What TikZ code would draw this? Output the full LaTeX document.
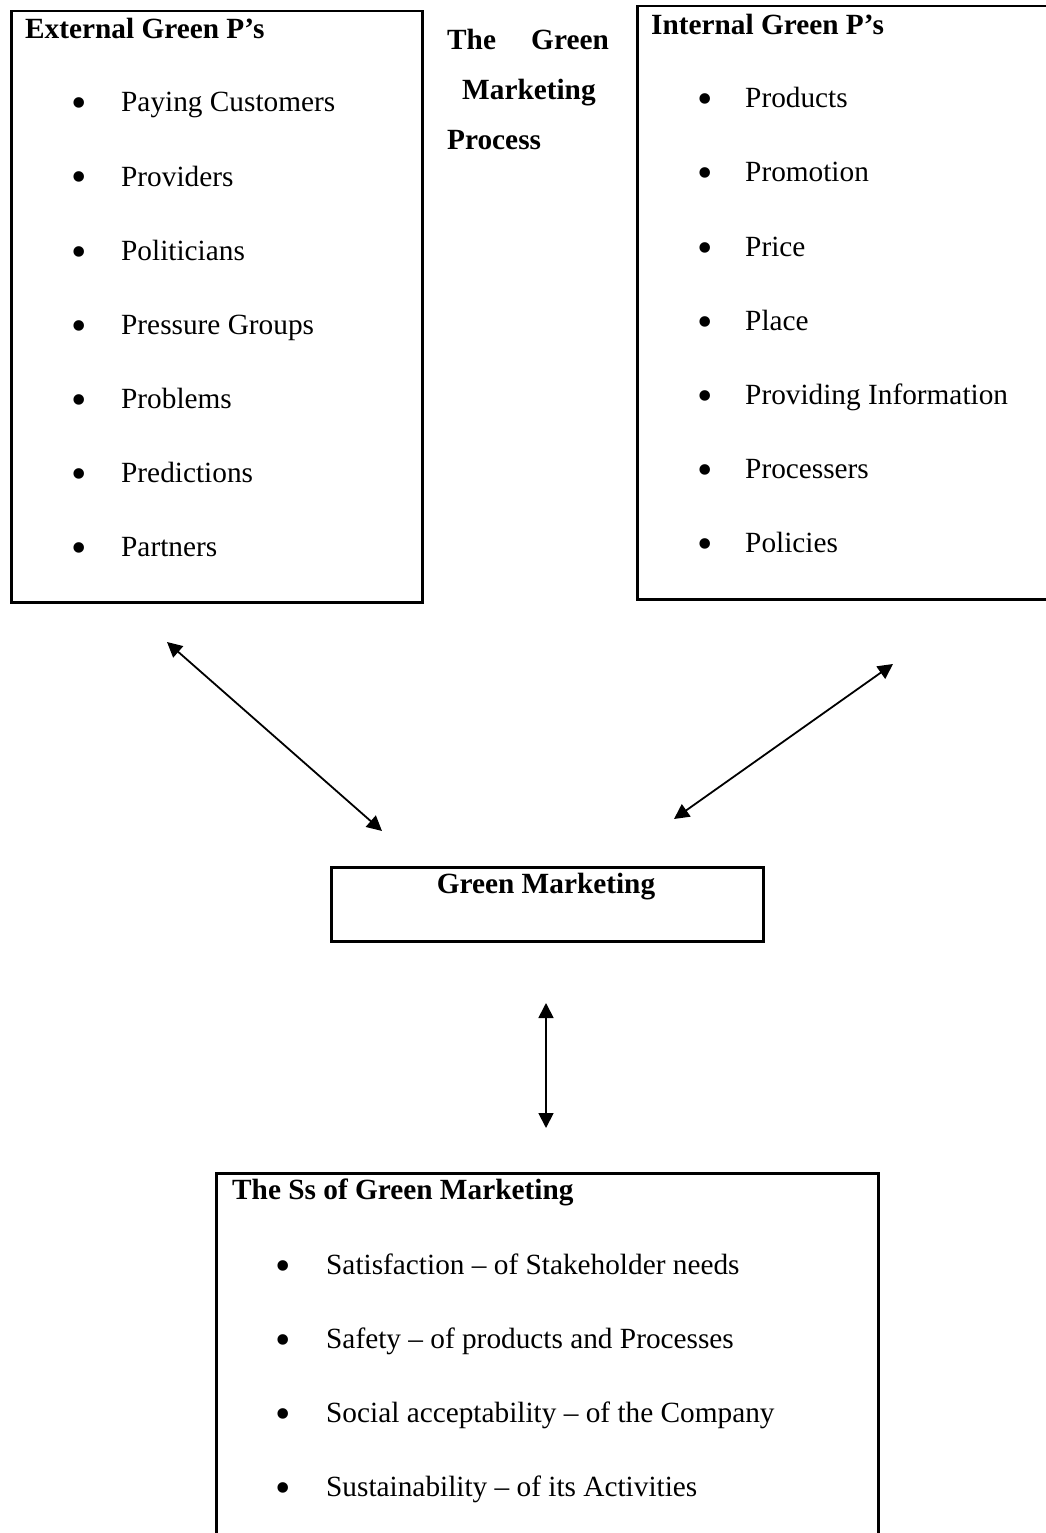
\documentclass[tikz,border=0pt]{standalone}
\usepackage{fontspec}
\setmainfont{Liberation Serif}
\usetikzlibrary{arrows.meta}
\begin{document}
\begin{tikzpicture}[x=1pt,y=-1pt,
  box/.style={draw=black, line width=2.5pt, anchor=north west, inner sep=0pt},
  txt/.style={anchor=base west, inner sep=0pt, font=\fontsize{29.3}{35}\selectfont},
  head/.style={anchor=base west, inner sep=0pt, font=\fontsize{29.3}{35}\selectfont\bfseries},
  bul/.style={anchor=base, inner sep=0pt, font=\fontsize{44}{50}\selectfont},
  link/.style={line width=1.8pt, {Triangle[length=15pt,width=15pt]}-{Triangle[length=15pt,width=15pt]}}
]
\useasboundingbox (0,0) rectangle (1046,1533);
\fill[white] (0,0) rectangle (1046,1533);

% boxes
\node[box, minimum width=411, minimum height=591] (ext) at (10,10) {};
\node[box, minimum width=420, minimum height=593] (int) at (636,5) {};
\node[box, minimum width=432, minimum height=74] (gm) at (330,866) {};
\node[box, minimum width=662, minimum height=400] (ss) at (215,1172) {};

% title
\node[head] (t1) at (447,50) {The};
\node[head, anchor=base east] (t2) at (609,50) {Green};
\node[head] (t3) at (462,100) {Marketing};
\node[head] (t4) at (447,150) {Process};

% external
\node[head] (exth) at (25,39) {External Green P’s};
\foreach \t [count=\i] in {Paying Customers, Providers, Politicians, Pressure Groups, Problems, Predictions, Partners}{
  \node[bul] (eb\i) at (79,44+74*\i) {•};
  \node[txt] (et\i) at (121,38+74*\i) {\t};
}

% internal
\node[head] (inth) at (651,35) {Internal Green P’s};
\foreach \t [count=\i] in {Products, Promotion, Price, Place, Providing Information, Processers, Policies}{
  \node[bul] (ib\i) at (705,40+74*\i) {•};
  \node[txt] (it\i) at (745,34+74*\i) {\t};
}

% green marketing
\node[head, anchor=base] (gmt) at (546,893) {Green Marketing};

% Ss
\node[head] (ssh) at (232,1199) {The Ss of Green Marketing};
\foreach \t [count=\i] in {Satisfaction – of Stakeholder needs, Safety – of products and Processes, Social acceptability – of the Company, Sustainability – of its Activities}{
  \node[bul] (sb\i) at (283,1206+74*\i) {•};
  \node[txt] (st\i) at (326,1200+74*\i) {\t};
}

% arrows
\coordinate (a1) at (167,642);
\coordinate (a2) at (382,831);
\coordinate (b1) at (893,664);
\coordinate (b2) at (674,819);
\coordinate (c1) at (546,1003);
\coordinate (c2) at (546,1128);
\draw[link] (a1) -- (a2);
\draw[link] (b1) -- (b2);
\draw[link] (c1) -- (c2);
\end{tikzpicture}
\end{document}
